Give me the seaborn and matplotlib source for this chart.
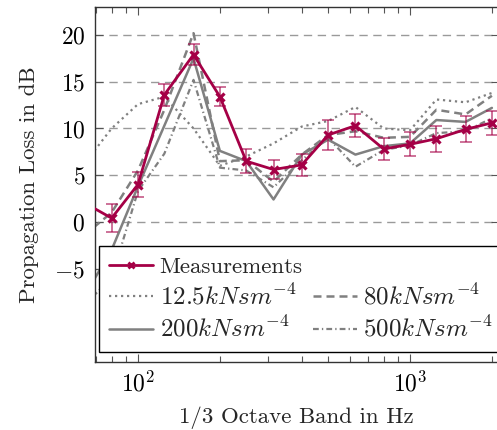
import numpy as np
import pandas as pd
import matplotlib
matplotlib.use("Agg")
import matplotlib.pyplot as plt
import matplotlib.ticker as mticker
from matplotlib.lines import Line2D
import seaborn as sns

# ---- data ----
freqs = [63, 80, 100, 125, 160, 200, 250, 315, 400, 500, 630, 800, 1000, 1250, 1600, 2000]
meas = [2.1, 0.4, 4.0, 13.6, 17.9, 13.4, 6.5, 5.6, 6.1, 9.3, 10.3, 7.8, 8.3, 8.9, 9.9, 10.6]
meas_err = [1.5, 1.5, 1.3, 1.2, 1.1, 1.0, 1.3, 1.0, 1.2, 1.6, 1.2, 1.2, 1.3, 1.4, 1.4, 1.3]
r12 = [6.1, 10.0, 12.6, 13.4, 10.0, 6.0, 7.0, 8.4, 10.2, 10.8, 12.3, 10.0, 9.8, 13.1, 12.8, 13.8]
r80 = [-1.5, 1.0, 5.5, 12.0, 20.2, 6.5, 6.6, 4.3, 7.2, 9.3, 9.7, 9.0, 9.1, 12.0, 11.5, 13.5]
r200 = [-8.1, -3.0, 3.8, 10.3, 17.5, 7.6, 6.5, 2.4, 7.2, 8.8, 7.2, 8.1, 8.4, 10.9, 10.7, 12.2]
r500 = [-9.0, -6.0, 3.3, 7.3, 15.2, 5.8, 5.5, 3.7, 6.6, 9.0, 5.9, 7.7, 8.2, 9.5, 9.7, 11.1]
labels = ["Measurements", r"$12.5kNsm^{-4}$", r"$80kNsm^{-4}$",
          r"$200kNsm^{-4}$", r"$500kNsm^{-4}$"]
yticks = [-5, 0, 5, 10, 15, 20]

sns.set_style("ticks")
plt.rcParams["font.family"] = ["cmr10", "DejaVu Serif"]
plt.rcParams["mathtext.fontset"] = "cm"
plt.rcParams["axes.formatter.use_mathtext"] = True
plt.rcParams["font.size"] = 16.5

MEAS_C = "#A50046"
GRAY = "#808080"

fig = plt.figure(figsize=(4.97, 4.30), dpi=100)
ax = fig.add_axes([95 / 497, 68 / 430, 403.5 / 497, 355 / 430])
ax.set_xscale("log")

styles = [
    (r12, (0, (1, 1.7)), 1.6),
    (r80, (0, (3.2, 2.0)), 1.8),
    (r200, "-", 1.8),
    (r500, (0, (2.6, 1.4, 0.6, 1.4)), 1.6),
]
handles = []
for vals, ls, lw in styles:
    df = pd.DataFrame({"f": freqs, "v": vals})
    sns.lineplot(data=df, x="f", y="v", ax=ax, color=GRAY, lw=lw,
                 linestyle=ls, zorder=2)
    handles.append(Line2D([], [], color=GRAY, lw=lw, linestyle=ls))

ax.errorbar(freqs, meas, yerr=meas_err, fmt="none", ecolor=MEAS_C,
            alpha=0.6, elinewidth=1.3, capsize=4, capthick=1.3, zorder=3)
dfm = pd.DataFrame({"f": freqs, "v": meas})
sns.lineplot(data=dfm, x="f", y="v", ax=ax, color=MEAS_C, lw=2.0,
             marker="x", markersize=6, markeredgewidth=2.3,
             markeredgecolor=MEAS_C, zorder=4)
h_meas = Line2D([], [], color=MEAS_C, lw=2.0, marker="x", markersize=5,
                markeredgewidth=2.0)
blank = Line2D([], [], color="none")

ax.set_xlim(69.5, 2115)
ax.set_ylim(-15, 23)
ax.set_yticks(yticks)
ax.yaxis.set_major_formatter(mticker.FuncFormatter(lambda v, p: rf"${v:g}$"))
ax.xaxis.set_major_locator(mticker.LogLocator(base=10))
ax.xaxis.set_minor_locator(mticker.LogLocator(base=10, subs=np.arange(2, 10)))
ax.xaxis.set_major_formatter(mticker.FuncFormatter(
    lambda v, p: rf"$10^{{{int(round(np.log10(v)))}}}$"))
ax.xaxis.set_minor_formatter(mticker.NullFormatter())

ax.yaxis.grid(True, color="#9a9a9a", linestyle=(0, (6, 4)), lw=1.0)
ax.xaxis.grid(False)
ax.set_axisbelow(True)

ax.tick_params(axis="both", which="both", direction="in", top=True,
               right=True, colors="#555555", labelcolor="black", labelsize=17)
ax.tick_params(axis="both", which="major", length=6, width=0.8, pad=7)
ax.tick_params(axis="both", which="minor", length=4, width=0.8)
for s in ax.spines.values():
    s.set_color("#333333")
    s.set_linewidth(1.0)

ax.set_xlabel("1/3 Octave Band in Hz", fontsize=16.5, labelpad=7)
ax.set_ylabel("Propagation Loss in dB", fontsize=16.5, labelpad=11)

leg = ax.legend([h_meas, handles[0], handles[2], blank, handles[1], handles[3]],
                [labels[0], labels[1], labels[3], "", labels[2], labels[4]],
                ncol=2, loc="lower left", bbox_to_anchor=(0.0099, 0.028),
                borderaxespad=0, frameon=True, fancybox=False,
                edgecolor="black", framealpha=1, fontsize=16.5,
                handlelength=1.9, handletextpad=0.3, columnspacing=0.45,
                labelspacing=0.3, borderpad=0.45)
for t in leg.get_texts():
    if t.get_text().startswith("$"):
        t.set_fontsize(18)
leg.get_frame().set_linewidth(1.0)

fig.savefig("out.png", dpi=100)
